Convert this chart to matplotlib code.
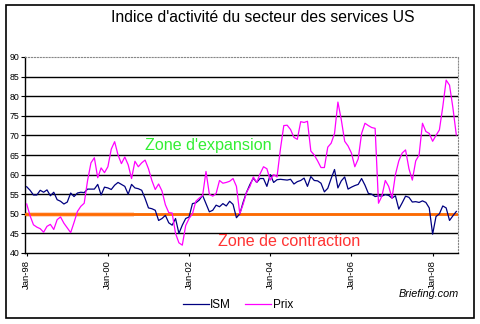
import numpy as np
import matplotlib
matplotlib.use("Agg")
import matplotlib.pyplot as plt
from matplotlib.patches import Rectangle

plt.rcParams['font.family'] = ['Liberation Sans', 'DejaVu Sans']

# indices mensuels, janv. 1998 -> août 2008
ism = [56.9, 56.0, 54.8, 54.8, 56.0, 55.5, 56.1, 54.6, 55.5, 53.6,
       53.2, 52.5, 53.0, 55.3, 54.4, 55.3, 55.5, 55.4, 56.3, 56.3,
       56.3, 57.5, 54.8, 56.8, 56.6, 56.2, 57.3, 58.0, 57.5, 57.0,
       55.0, 57.5, 56.6, 56.4, 56.0, 53.9, 51.5, 51.3, 50.9, 48.3,
       48.8, 49.6, 47.7, 47.1, 48.8, 45.0, 47.1, 48.8, 49.2, 52.6,
       52.8, 53.5, 54.7, 52.6, 50.5, 50.9, 52.2, 51.8, 52.6, 52.0,
       53.2, 52.4, 49.0, 50.0, 53.0, 55.5, 57.5, 59.1, 58.0, 59.0,
       59.0, 57.0, 60.0, 58.0, 58.7, 58.8, 58.7, 58.6, 58.8, 57.6,
       58.2, 58.5, 59.1, 57.0, 59.5, 58.5, 58.4, 57.8, 55.6, 56.5,
       59.0, 61.3, 56.6, 58.4, 59.4, 56.3, 56.8, 57.2, 57.5, 59.0,
       57.3, 55.2, 55.0, 54.4, 54.6, 54.5, 54.9, 54.7, 54.0, 54.6,
       51.2, 52.8, 54.5, 54.2, 53.0, 53.1, 52.9, 53.3, 52.9, 51.5,
       44.8, 49.3, 50.0, 52.0, 51.5, 48.3, 49.5, 50.6]

prix = [52.5, 49.5, 47.2, 46.6, 46.2, 45.3, 46.8, 47.3, 46.0, 48.5,
        49.2, 47.6, 46.4, 45.2, 47.8, 50.6, 51.9, 52.7, 58.5, 63.0,
        64.3, 59.2, 61.7, 60.5, 62.0, 66.5, 68.4, 65.0, 62.8, 64.5,
        62.5, 59.0, 63.4, 62.0, 63.0, 63.7, 61.5, 58.5, 56.2, 57.6,
        55.8, 52.3, 50.3, 50.2, 45.0, 42.6, 42.0, 47.0, 48.8, 50.0,
        53.2, 54.0, 54.6, 60.8, 55.0, 54.5, 55.2, 58.5, 57.8, 58.0,
        58.3, 59.0, 57.0, 50.0, 52.5, 55.5, 57.0, 59.4, 58.0, 60.2,
        62.0, 61.5, 58.6, 60.0, 59.4, 66.5, 72.5, 72.6, 71.5, 69.5,
        69.0, 73.5, 73.3, 73.6, 66.0, 65.0, 63.5, 61.8, 61.8, 67.0,
        68.0, 70.5, 78.5, 74.0, 68.5, 67.3, 65.5, 62.0, 64.0, 70.5,
        73.1, 72.5, 72.0, 71.8, 52.7, 54.5, 58.5, 57.0, 54.0, 60.0,
        63.5, 65.5, 66.3, 61.5, 58.6, 63.5, 65.0, 73.1, 71.0, 70.5,
        68.5, 70.0, 71.4, 77.3, 84.1, 82.8, 77.0, 70.1]

tick_pos = [0, 24, 48, 72, 96, 120]
tick_labels = ["Jan-98", "Jan-00", "Jan-02", "Jan-04", "Jan-06", "Jan-08"]
seuil = 50

x = np.arange(len(ism))

fig = plt.figure(figsize=(4.81, 3.24), dpi=100)
ax = fig.add_axes([25 / 481, 1 - 253 / 324, 433 / 481, 196 / 324])

# grille horizontale
for v in range(45, 90, 5):
    ax.axhline(v, color='black', lw=1.0, zorder=1)

# ligne des 50
ax.axhline(seuil, xmax=0.245, color='#ffd6bf', lw=3.6, zorder=2)
ax.axhline(seuil, color='#ff6a00', lw=2.0, zorder=3)

ax.plot(x, ism, color='#000080', lw=0.9, label='ISM', zorder=4)
ax.plot(x, prix, color='#ff00ff', lw=0.9, label='Prix', zorder=5)

ax.set_xlim(-0.5, len(ism) - 0.5)
ax.set_ylim(40, 90)
ax.set_yticks(range(40, 91, 5))
ax.tick_params(axis='y', labelsize=6.3, length=3, width=0.8, pad=1)
ax.set_xticks(tick_pos)
ax.set_xticklabels(tick_labels, rotation=90, fontsize=6.8)
ax.tick_params(axis='x', length=2, width=0.8, pad=3)

for s in ['top', 'right']:
    ax.spines[s].set_color('#888888')
    ax.spines[s].set_linestyle(':')
    ax.spines[s].set_linewidth(0.8)
for s in ['left', 'bottom']:
    ax.spines[s].set_linewidth(1.0)

ax.text(0.277, 0.546, "Zone d'expansion", transform=ax.transAxes,
        color='#33ee33', fontsize=11.6, va='center', ha='left')
ax.text(0.446, 0.057, "Zone de contraction", transform=ax.transAxes,
        color='#ff3333', fontsize=11.6, va='center', ha='left')

fig.text(263 / 481, 1 - 18 / 324, "Indice d'activité du secteur des services US",
         ha='center', va='center', fontsize=11.3)
fig.text(459 / 481, 1 - 294 / 324, "Briefing.com", ha='right', va='center',
         fontsize=7.8, style='italic')

fig.legend(loc='center', bbox_to_anchor=(238 / 481, 1 - 305 / 324), ncol=2,
           frameon=False, fontsize=8.5, handlelength=2.2, handletextpad=0.1,
           columnspacing=1.2, borderaxespad=0)

fig.patches.append(Rectangle((6 / 481, 1 - 318 / 324), 468 / 481, 313 / 324,
                             transform=fig.transFigure, fill=False,
                             edgecolor='black', lw=1.2))

fig.savefig("out.png", dpi=100)
